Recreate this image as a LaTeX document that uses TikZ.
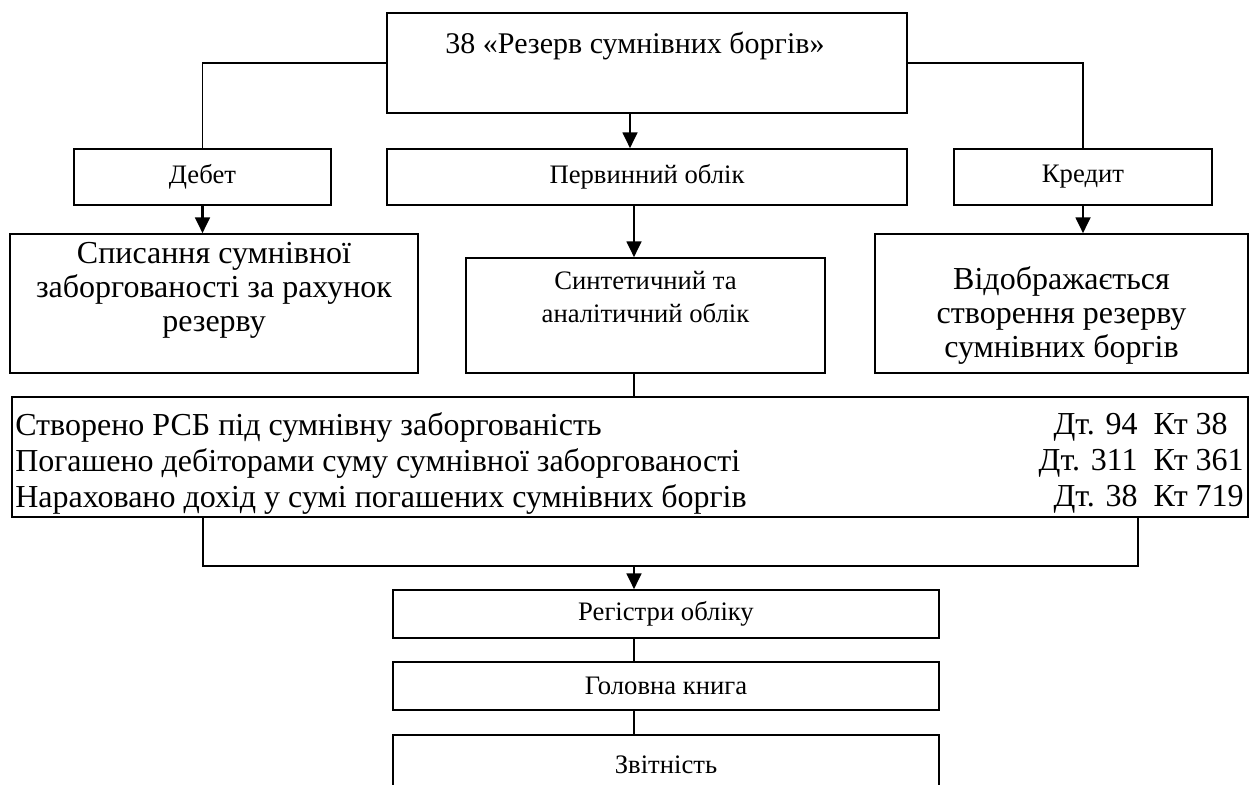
\documentclass[tikz,border=0pt]{standalone}
\usepackage{fontspec}
\setmainfont{Liberation Serif}
\usetikzlibrary{arrows.meta, calc}

\begin{document}
\begin{tikzpicture}[x=0.75pt,y=-0.75pt,>={Triangle[width=11pt,length=12pt]},
  box/.style 2 args={draw,line width=1.1pt,minimum width=#1*0.75pt,minimum height=#2*0.75pt,inner sep=0pt},
  big/.style={font=\fontsize{24}{25.5}\selectfont,align=center,inner sep=0pt},
  small/.style={font=\fontsize{20}{24.75}\selectfont,align=center},
  ln/.style={line width=0.9pt},arr/.style={->,line width=2.1pt}]
\useasboundingbox (0,0) rectangle (1250,785);
% top account box
\node[box={520}{100}] (rez) at (647,63) {};\node[big,anchor=base,font=\fontsize{22.5}{25}\selectfont] (rezt) at (635,53) {38 «Резерв сумнівних боргів»};
% second row
\node[box={257}{56},small] (deb) at (202.5,177) {Дебет};\node[box={520}{56},small] (perv) at (647,177) {Первинний облік};\node[box={258}{56},small] (kred) at (1083,177) {Кредит};
% third row
\node[box={408}{139}] (spys) at (214,303.5) {};\node[big] (spyst) at (214,290) {Списання сумнівної\\заборгованості за рахунок\\резерву};
\node[box={359}{115}] (synt) at (645.5,315.5) {};\node[small,inner sep=0pt] (syntt) at (645.5,297) {Синтетичний та\\аналітичний облік};
\node[box={373}{139}] (vid) at (1061.5,303.5) {};\node[big] (vidt) at (1061.5,315) {Відображається\\створення резерву\\сумнівних боргів};
% entries
\node[box={1236}{120}] (tabl) at (630,457) {};
\node[big,align=left,anchor=west,font=\fontsize{24}{27}\selectfont] (tablt) at (15,463) {Створено РСБ під сумнівну заборгованість\\Погашено дебіторами суму сумнівної заборгованості\\Нараховано дохід у сумі погашених сумнівних боргів};
\node[big,anchor=east,font=\fontsize{24}{27}\selectfont] (tablk) at (1244,463) {\begin{tabular}{@{}r@{\ \ }l@{}}Дт. 94&Кт 38\\Дт. 311&Кт 361\\Дт. 38&Кт 719\end{tabular}};
% registers
\node[box={546}{48},small] (reg) at (666,614) {Регістри обліку};\node[box={546}{48},small] (gol) at (666,686) {Головна книга};\node[box={546}{60},small] (zvit) at (666,765) {Звітність};
% connectors
\coordinate (ca) at (630,0);\coordinate (cb) at (634,0);\coordinate (bl) at (203,566);\coordinate (br) at (1138,566);
\draw[ln] (rez.west) -| (deb.north);\draw[ln] (rez.east) -| (kred.north);\draw[arr] (rez.south -| ca) -- (perv.north -| ca);
\draw[arr] (deb.south) -- (deb.south |- spys.north);\draw[arr] (perv.south -| cb) -- (synt.north -| cb);\draw[arr] (kred.south) -- (kred.south |- vid.north);
\draw[ln] (synt.south -| cb) -- (tabl.north -| cb);\draw[ln] (tabl.south -| bl) -- (bl) -- (br) -- (tabl.south -| br);
\draw[arr] (bl -| cb) -- (reg.north -| cb);\draw[ln] (reg.south -| cb) -- (gol.north -| cb);\draw[ln] (gol.south -| cb) -- (zvit.north -| cb);
\end{tikzpicture}
\end{document}
